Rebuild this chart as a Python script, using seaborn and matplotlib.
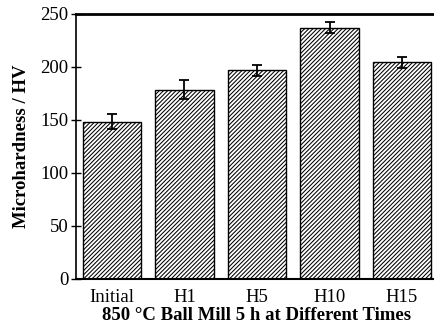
import matplotlib
matplotlib.use("Agg")
import matplotlib.pyplot as plt
import seaborn as sns
import pandas as pd

categories = ["Initial", "H1", "H5", "H10", "H15"]
hardness = [148.4, 178.5, 196.8, 237.0, 204.6]
errors = [7.1, 9.0, 5.0, 5.2, 5.2]

sns.set_theme(style="ticks")
plt.rcParams['font.family'] = ['Liberation Serif', 'DejaVu Serif']
plt.rcParams['hatch.linewidth'] = 0.75
plt.rcParams['hatch.color'] = 'black'
plt.rcParams['text.color'] = 'black'
plt.rcParams['axes.labelcolor'] = 'black'

df = pd.DataFrame({"cat": categories, "val": hardness, "err": errors})

fig = plt.figure(figsize=(4.34, 3.27), dpi=100)
ax = fig.add_axes([0.1744, 0.1468, 0.8355, 0.8104])

sns.barplot(data=df, x="cat", y="val", color="white", edgecolor="black",
            linewidth=1.0, width=0.81, errorbar=None, ax=ax, saturation=1)
for p in ax.patches:
    p.set_hatch('////////')
    p.set_facecolor('white')
    p.set_edgecolor('black')

ax.errorbar(range(len(categories)), df["val"], yerr=df["err"], fmt='none',
            ecolor='black', elinewidth=1.3, capsize=3.5, capthick=1.3)

ax.set_xlim(-0.5, 4.5)
ax.set_ylim(0, 250)
ax.set_yticks([0, 50, 100, 150, 200, 250])
ax.tick_params(axis='y', direction='inout', length=7, width=1.0, labelsize=13.5,
               colors='black', labelcolor='black', pad=1.5)
ax.tick_params(axis='x', length=0, labelsize=13.5, colors='black', labelcolor='black', pad=7)
ax.spines['right'].set_visible(False)
ax.spines['top'].set_linewidth(2.0)
ax.spines['left'].set_linewidth(1.2)
ax.spines['bottom'].set_linewidth(1.5)
for s in ax.spines.values():
    s.set_color('black')

ax.set_xlabel("850 °C Ball Mill 5 h at Different Times", fontsize=13.5, fontweight='bold',
              labelpad=1, color='black')
ax.set_ylabel("Microhardness / HV", fontsize=13.5, fontweight='bold', labelpad=8, color='black')

fig.savefig("out.png", dpi=100)
